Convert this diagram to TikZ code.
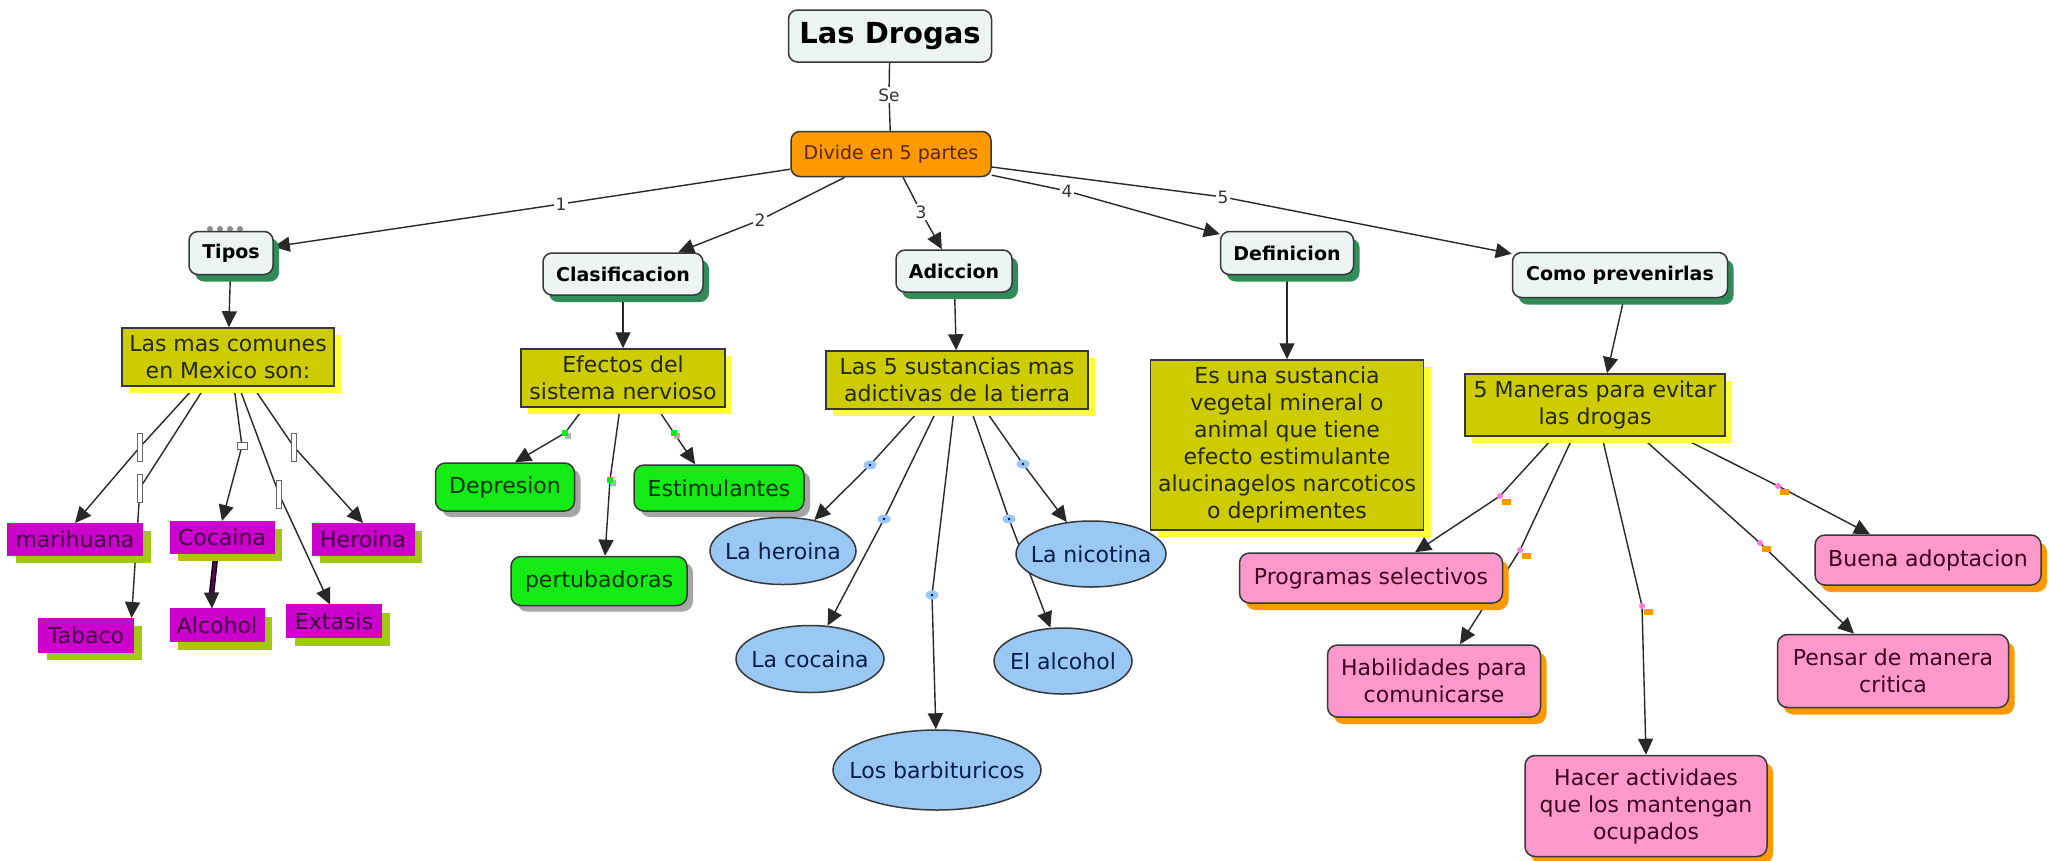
\documentclass[tikz,border=0pt]{standalone}
\usepackage{fontspec}
\setmainfont{DejaVu Sans}
\usetikzlibrary{arrows.meta,shadows,backgrounds,shapes.geometric}
\newcommand\fsz[2]{\fontsize{#1}{#2}\selectfont}
\newcommand\zb[1]{\makebox[0pt]{#1}}
\definecolor{nodebg}{RGB}{236,244,244}
\definecolor{bord}{RGB}{55,55,55}
\definecolor{seagr}{RGB}{50,140,90}
\definecolor{orng}{RGB}{255,153,0}
\definecolor{olivefill}{RGB}{204,204,0}
\definecolor{yel}{RGB}{255,255,60}
\definecolor{mag}{RGB}{204,0,204}
\definecolor{limeg}{RGB}{160,200,20}
\definecolor{grn}{RGB}{20,235,20}
\definecolor{sky}{RGB}{153,200,245}
\definecolor{pnk}{RGB}{255,153,204}
\definecolor{lineg}{RGB}{40,40,40}
\definecolor{purp}{RGB}{90,0,90}
\tikzset{
  sz/.style 2 args={minimum width=#1pt, minimum height=#2pt},
  conc/.style={draw=bord, line width=1.5pt, align=center, inner sep=0pt, font=\fsz{22pt}{27pt}},
  topbox/.style={conc, fill=nodebg, rounded corners=9pt, font=\bfseries\fsz{19pt}{23pt},
    drop shadow={shadow xshift=6pt, shadow yshift=-7pt, fill=seagr, opacity=1}},
  olivebox/.style={conc, fill=olivefill, text={rgb,255:red,40;green,40;blue,0},
    drop shadow={shadow xshift=7pt, shadow yshift=-7pt, fill=yel, opacity=1}},
  magbox/.style={conc, line width=0pt, draw=mag, fill=mag, text=purp!70!black,
    drop shadow={shadow xshift=8pt, shadow yshift=-8pt, fill=limeg, opacity=1}},
  grnbox/.style={conc, fill=grn, rounded corners=10pt, text={rgb,255:red,0;green,50;blue,0},
    drop shadow={shadow xshift=6pt, shadow yshift=-6pt, fill=black!35, opacity=1}},
  ellbox/.style={conc, ellipse, fill=sky, text={rgb,255:red,0;green,30;blue,70}},
  pnkbox/.style={conc, fill=pnk, rounded corners=10pt, text={rgb,255:red,60;green,0;blue,30},
    drop shadow={shadow xshift=6pt, shadow yshift=-7pt, fill=orng, opacity=1}},
  elabel/.style={fill=white, inner sep=1.5pt, font=\fsz{17pt}{20pt}, text=black!80},
  rlbl/.style={draw=black!60, fill=white, line width=0.8pt, inner sep=0pt, minimum width=5pt, minimum height=28pt},
  glbl/.style={fill=grn, inner sep=0pt, minimum size=6pt,
    drop shadow={shadow xshift=3pt, shadow yshift=-3pt, fill=black!30, opacity=1}},
  blbl/.style={ellipse, fill=sky, inner sep=0pt, minimum width=13pt, minimum height=9pt},
  plbl/.style={circle, fill=pnk!80!magenta, inner sep=0pt, minimum size=6pt},
  conn/.style={draw=lineg, line width=1.4pt},
  arr/.style={conn, -{Triangle[length=16pt, width=15pt]}},
}
\begin{document}
\begin{tikzpicture}[x=1pt, y=-1pt]
\useasboundingbox (0,0) rectangle (2049,860);
\begin{pgfonlayer}{background}
\fill[white] (0,0) rectangle (2049,860);
\end{pgfonlayer}

% top
\node[conc, fill=nodebg, rounded corners=9pt, font=\bfseries\fsz{29pt}{34pt}, sz={203}{52}] (drogas) at (890,36) {Las Drogas};
\node[conc, fill=orng, rounded corners=9pt, font=\fsz{19pt}{23pt}, text={rgb,255:red,90;green,40;blue,0}, sz={200}{45}] (divide) at (891,154) {Divide en 5 partes};
\node[elabel] (se) at (889,95) {Se};

% level 1
\node[topbox, sz={84}{43}] (tipos) at (231,253) {Tipos};
\node[topbox, sz={160}{42}] (clasif) at (623,274) {Clasificacion};
\node[topbox, sz={116}{42}] (adiccion) at (954,271) {Adiccion};
\node[topbox, sz={133}{43}] (definicion) at (1287,253) {Definicion};
\node[topbox, sz={215}{45}] (como) at (1620,275) {Como prevenirlas};

\node[elabel] (e1) at (561,204) {1};
\node[elabel] (e2) at (760,220) {2};
\node[elabel] (e3) at (921,212) {3};
\node[elabel] (e4) at (1067,191) {4};
\node[elabel] (e5) at (1223,197) {5};

% level 2
\node[olivebox, sz={212}{58}] (mexico) at (228,357) {Las mas comunes\\en Mexico son:};
\node[olivebox, sz={204}{58}] (efectos) at (623,378) {Efectos del\\sistema nervioso};
\node[olivebox, sz={262}{58}] (sust) at (957,380) {Las 5 sustancias mas\\adictivas de la tierra};
\node[olivebox, sz={273}{170}] (esuna) at (1287,445) {Es una sustancia\\vegetal mineral o\\animal que tiene\\efecto estimulante\\alucinagelos narcoticos\\o deprimentes};
\node[olivebox, sz={260}{62}] (maneras) at (1595,405) {5 Maneras para evitar\\las drogas};

% tipos children
\node[magbox, sz={135}{32}] (marihuana) at (75,539) {marihuana};
\node[magbox, sz={104}{32}] (cocaina) at (222,537) {Cocaina};
\node[magbox, sz={102}{32}] (heroina) at (363,539) {Heroina};
\node[magbox, sz={95}{34}] (tabaco) at (86,635) {Tabaco};
\node[magbox, sz={94}{33}] (alcohol) at (217,625) {Alcohol};
\node[magbox, sz={95}{33}] (extasis) at (334,621) {Extasis};
\node[rlbl] (m1) at (140,447) {};
\node[rlbl] (m2) at (140,488) {};
\node[rlbl, minimum width=10pt, minimum height=7pt] (m3) at (242,446) {};
\node[rlbl] (m4) at (279,494) {};
\node[rlbl] (m5) at (294,447) {};

% efectos children
\node[grnbox, sz={139}{48}] (depresion) at (505,487) {Depresion};
\node[grnbox, sz={170}{46}] (estim) at (719,488) {Estimulantes};
\node[grnbox, sz={176}{49}] (pertub) at (599,581) {pertubadoras};
\node[glbl] (g1) at (565,433) {};
\node[glbl] (g2) at (610,480) {};
\node[glbl] (g3) at (674,433) {};

% sustancias children
\node[ellbox, sz={146}{67}] (lheroina) at (783,551) {\zb{La heroina}};
\node[ellbox, sz={150}{66}] (lnicotina) at (1091,554) {\zb{La nicotina}};
\node[ellbox, sz={148}{67}] (lcocaina) at (810,659) {\zb{La cocaina}};
\node[ellbox, sz={138}{66}] (elalcohol) at (1063,661) {\zb{El alcohol}};
\node[ellbox, sz={208}{80}] (barbit) at (937,770) {\zb{Los barbituricos}};
\node[blbl] (b1) at (870,465) {};
\node[blbl] (b2) at (884,519) {};
\node[blbl] (b3) at (932,595) {};
\node[blbl] (b4) at (1009,519) {};
\node[blbl] (b5) at (1023,464) {};
\foreach \n in {b1,b2,b3,b4,b5} \fill[blue!45!black] (\n) circle (1.4pt);

% maneras children
\node[pnkbox, sz={263}{50}] (programas) at (1371,578) {Programas selectivos};
\node[pnkbox, sz={213}{72}] (habilidades) at (1434,681) {Habilidades para\\comunicarse};
\node[pnkbox, sz={242}{101}] (hacer) at (1646,806) {Hacer actividaes\\que los mantengan\\ocupados};
\node[pnkbox, sz={231}{73}] (pensar) at (1893,671) {Pensar de manera\\critica};
\node[pnkbox, sz={226}{50}] (buena) at (1928,560) {Buena adoptacion};
\foreach \n/\x/\y in {p1/1500/496, p2/1520/550, p3/1642/606, p4/1760/543, p5/1778/486} {
  \fill[orng] (\x+2,\y+3) rectangle (\x+11,\y+9);
  \node[plbl] (\n) at (\x,\y) {};
}

\begin{pgfonlayer}{background}
\foreach \x in {210,220,230,240} \fill[black!45] (\x,229) circle (3pt);
\draw[conn] (drogas) -- (se) -- (divide);
\draw[arr] (divide) -- (e1) -- (tipos);
\draw[arr] (divide) -- (e2) -- (clasif);
\draw[arr] (divide) -- (e3) -- (adiccion);
\draw[arr] (divide) -- (e4) -- (definicion);
\draw[arr] (divide) -- (e5) -- (como);

\draw[arr] (tipos) -- (mexico);
\draw[arr] (clasif) -- (efectos);
\draw[arr] (adiccion) -- (sust);
\draw[arr] (definicion) -- (esuna);
\draw[arr] ([xshift=4pt]como.south) -- ([xshift=12pt]maneras.north);

\draw[arr] ([xshift=-33pt]mexico.south) -- (m1.center) -- (marihuana.north);
\draw[arr] ([xshift=-23pt]mexico.south) -- (m2.center) -- ([xshift=-2pt]tabaco.north east);
\draw[arr] ([xshift=6pt]mexico.south) -- (m3.center) -- (cocaina.north);
\draw[arr] ([xshift=11pt]mexico.south) -- (m4.center) -- ([xshift=-4pt]extasis.north);
\draw[arr] ([xshift=25pt]mexico.south) -- (m5.center) -- (heroina.north);
\draw[draw=black, line width=5.5pt] ([xshift=-6pt]cocaina.south) -- ([xshift=-5.5pt,yshift=14pt]alcohol.north);
\draw[draw=purp, line width=3pt] ([xshift=-6pt]cocaina.south) -- ([xshift=-5.5pt,yshift=14pt]alcohol.north);
\draw[arr] ([xshift=-5.5pt,yshift=16pt]alcohol.north) -- ([xshift=-5pt]alcohol.north);

\draw[arr] ([xshift=-39pt]efectos.south) -- (g1.center) -- ([xshift=10pt]depresion.north);
\draw[arr] ([xshift=-3pt]efectos.south) -- (g2.center) -- ([xshift=6pt]pertub.north);
\draw[arr] ([xshift=34pt]efectos.south) -- (g3.center) -- ([xshift=-24pt]estim.north);

\draw[arr] ([xshift=-37pt]sust.south) -- (b1.center) -- (lheroina);
\draw[arr] ([xshift=-20pt]sust.south) -- (b2.center) -- (lcocaina);
\draw[arr] ([xshift=-3pt]sust.south) -- (b3.center) -- (barbit);
\draw[arr] ([xshift=14pt]sust.south) -- (b4.center) -- (elalcohol);
\draw[arr] ([xshift=28pt]sust.south) -- (b5.center) -- (lnicotina);

\draw[arr] ([xshift=-41pt]maneras.south) -- (p1.center) -- ([xshift=44pt]programas.north);
\draw[arr] ([xshift=-22pt]maneras.south) -- (p2.center) -- ([xshift=26pt]habilidades.north);
\draw[arr] ([xshift=7pt]maneras.south) -- (p3.center) -- (hacer.north);
\draw[arr] ([xshift=46pt]maneras.south) -- (p4.center) -- ([xshift=-39pt]pensar.north);
\draw[arr] ([xshift=85pt]maneras.south) -- (p5.center) -- ([xshift=-58pt]buena.north);
\end{pgfonlayer}
\end{tikzpicture}
\end{document}
